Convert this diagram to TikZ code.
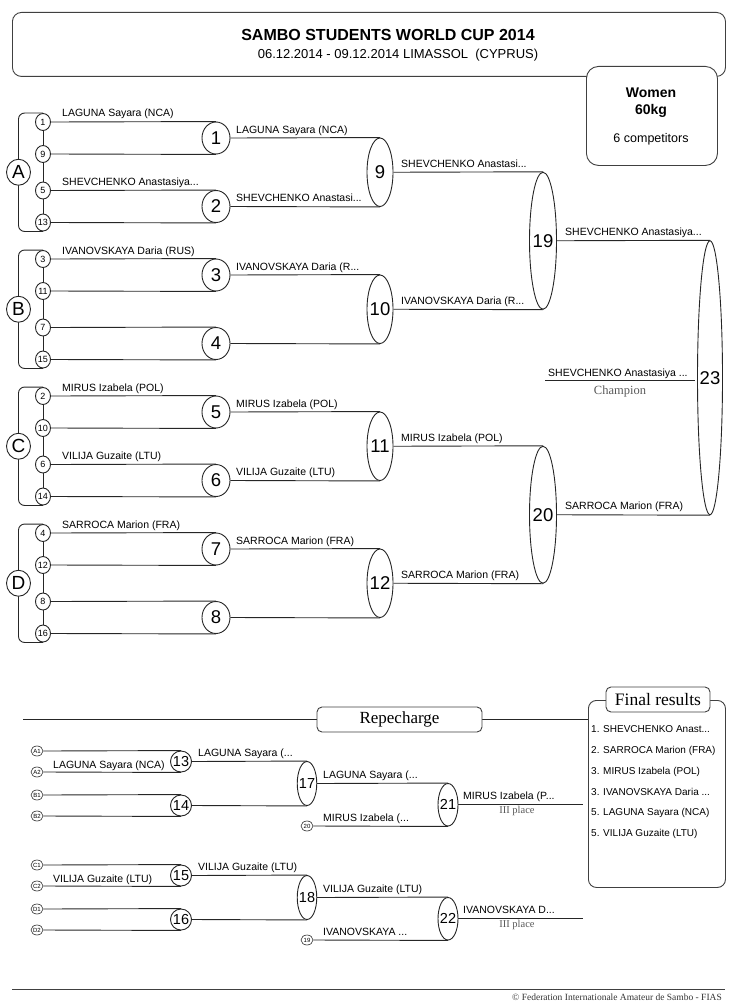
\documentclass[tikz,border=0pt]{standalone}
\usepackage{fontspec}
\setmainfont{Liberation Sans}
\newfontfamily\seriffont{Liberation Serif}
\usetikzlibrary{shapes.geometric,backgrounds}
\begin{document}
\begin{tikzpicture}[x=1pt,y=-1pt,
  ln/.style={line width=0.9pt, draw=black!85},
  ell/.style={ellipse, draw=black!85, line width=0.9pt, fill=white, inner sep=0pt},
  sm/.style={ell, minimum width=15pt, minimum height=17pt, label={[font=\fontsize{9}{9}\selectfont, inner sep=0pt]center:#1}},
  pool/.style={ell, minimum width=24pt, minimum height=26pt, label={[font=\fontsize{19}{19}\selectfont, inner sep=0pt]center:#1}},
  ra/.style={ell, minimum width=28pt, minimum height=32pt, label={[font=\fontsize{18.5}{18.5}\selectfont, inner sep=0pt]center:#1}},
  rb/.style={ell, minimum width=26pt, minimum height=68.5pt, label={[font=\fontsize{18.5}{18.5}\selectfont, inner sep=0pt]center:#1}},
  rc/.style={ell, minimum width=27pt, minimum height=137pt, label={[font=\fontsize{18.5}{18.5}\selectfont, inner sep=0pt]center:#1}},
  rd/.style={ell, minimum width=25pt, minimum height=274pt, label={[font=\fontsize{18.5}{18.5}\selectfont, inner sep=0pt]center:#1}},
  rs/.style={ell, line width=0.6pt, minimum width=12pt, minimum height=10pt, label={[font=\fontsize{6}{6}\selectfont, inner sep=0pt]center:#1}},
  rm/.style={ell, minimum width=21pt, minimum height=21pt, label={[font=\fontsize{14.5}{14.5}\selectfont, inner sep=0pt]center:#1}},
  rn/.style={ell, minimum width=19.5pt, minimum height=44pt, label={[font=\fontsize{14.5}{14.5}\selectfont, inner sep=0pt]center:#1}},
  ro/.style={ell, minimum width=20pt, minimum height=42.5pt, label={[font=\fontsize{14.5}{14.5}\selectfont, inner sep=0pt]center:#1}},
  lab/.style={anchor=base west, inner sep=0pt, font=\fontsize{10.5}{12}\selectfont},
  third/.style={inner sep=0pt, text=black!65, font=\seriffont\fontsize{10.5}{11}\selectfont},
  item/.style={anchor=base west, inner sep=0pt, font=\fontsize{10}{12}\selectfont},
  boxst/.style={draw=black!75, line width=0.9pt, fill=white, inner sep=0pt},
]
\useasboundingbox (0,0) rectangle (737,1006);

% ---------- header ----------
\node[boxst, rounded corners=9pt, minimum width=713pt, minimum height=64pt, anchor=north west] (hdr) at (12,12) {};
\node[inner sep=0pt, font=\bfseries\fontsize{16}{17}\selectfont] (title) at (388,35) {SAMBO STUDENTS WORLD CUP 2014};
\node[inner sep=0pt, font=\fontsize{13}{14}\selectfont] (subtitle) at (398,55) {06.12.2014 - 09.12.2014 LIMASSOL\ \ (CYPRUS)};
\node[boxst, rounded corners=12pt, minimum width=131pt, minimum height=99pt, anchor=north west] (wbox) at (586,66) {};
\node[inner sep=0pt, font=\bfseries\fontsize{14}{15}\selectfont] (women) at (651,93) {Women};
\node[inner sep=0pt, font=\bfseries\fontsize{14}{15}\selectfont] (kg) at (651,111) {60kg};
\node[inner sep=0pt, font=\fontsize{12.5}{14}\selectfont] (comp) at (651,139) {6 competitors};

% ---------- pools: small circles ----------
\node[sm=1]  (s1)  at (43,122)   {};
\node[sm=9]  (s9)  at (43,154)   {};
\node[sm=5]  (s5)  at (43,190.5) {};
\node[sm=13] (s13) at (43,222.5) {};
\node[sm=3]  (s3)  at (43,259)   {};
\node[sm=11] (s11) at (43,291)   {};
\node[sm=7]  (s7)  at (43,327.5) {};
\node[sm=15] (s15) at (43,359.5) {};
\node[sm=2]  (s2)  at (43,396)   {};
\node[sm=10] (s10) at (43,428)   {};
\node[sm=6]  (s6)  at (43,464.5) {};
\node[sm=14] (s14) at (43,496.5) {};
\node[sm=4]  (s4)  at (43,533)   {};
\node[sm=12] (s12) at (43,565)   {};
\node[sm=8]  (s8)  at (43,601.5) {};
\node[sm=16] (s16) at (43,633.5) {};

\node[pool=A] (pA) at (18.5,172.25) {};
\node[pool=B] (pB) at (18.5,309.25) {};
\node[pool=C] (pC) at (18.5,446.25) {};
\node[pool=D] (pD) at (18.5,583.25) {};

% ---------- matches ----------
\node[ra=1] (m1) at (216,138)   {};
\node[ra=2] (m2) at (216,206.5) {};
\node[ra=3] (m3) at (216,275)   {};
\node[ra=4] (m4) at (216,343.5) {};
\node[ra=5] (m5) at (216,412)   {};
\node[ra=6] (m6) at (216,480.5) {};
\node[ra=7] (m7) at (216,549)   {};
\node[ra=8] (m8) at (216,617.5) {};
\node[rb=9]  (m9)  at (380,172.25) {};
\node[rb=10] (m10) at (380,309.25) {};
\node[rb=11] (m11) at (380,446.25) {};
\node[rb=12] (m12) at (380,583.25) {};
\node[rc=19] (m19) at (543,240.75) {};
\node[rc=20] (m20) at (543,514.75) {};
\node[rd=23] (m23) at (710,377.75) {};
\coordinate (ch1) at (545,380);
\coordinate (ch2) at (695,380);

% ---------- labels main bracket ----------
\node[lab] (t1) at (62,117)   {LAGUNA Sayara (NCA)};
\node[lab] (t2) at (62,185.5) {SHEVCHENKO Anastasiya...};
\node[lab] (t3) at (62,254)   {IVANOVSKAYA Daria (RUS)};
\node[lab] (t5) at (62,391)   {MIRUS Izabela (POL)};
\node[lab] (t6) at (62,459.5) {VILIJA Guzaite (LTU)};
\node[lab] (t7) at (62,528)   {SARROCA Marion (FRA)};
\node[lab] (u1) at (236,133)   {LAGUNA Sayara (NCA)};
\node[lab] (u2) at (236,201.5) {SHEVCHENKO Anastasi...};
\node[lab] (u3) at (236,270)   {IVANOVSKAYA Daria (R...};
\node[lab] (u5) at (236,407)   {MIRUS Izabela (POL)};
\node[lab] (u6) at (236,475.5) {VILIJA Guzaite (LTU)};
\node[lab] (u7) at (236,544)   {SARROCA Marion (FRA)};
\node[lab] (v9)  at (401,167.25) {SHEVCHENKO Anastasi...};
\node[lab] (v10) at (401,304.25) {IVANOVSKAYA Daria (R...};
\node[lab] (v11) at (401,441.25) {MIRUS Izabela (POL)};
\node[lab] (v12) at (401,578.25) {SARROCA Marion (FRA)};
\node[lab] (w19) at (565,235.75) {SHEVCHENKO Anastasiya...};
\node[lab] (w20) at (565,509.75) {SARROCA Marion (FRA)};
\node[lab] (champ) at (548,376) {SHEVCHENKO Anastasiya ...};
\node[inner sep=0pt, text=black!65, font=\seriffont\fontsize{12.5}{13}\selectfont] (champion) at (620,391) {Champion};

% ---------- repecharge ----------
\coordinate (rl) at (23,719.5);
\node[boxst, rounded corners=5pt, minimum width=165pt, minimum height=25pt, font=\seriffont\fontsize{17}{18}\selectfont] (rep) at (399.5,719.5) {Repecharge};
\node[boxst, rounded corners=8pt, minimum width=137pt, minimum height=187pt, anchor=north west] (fbox) at (588,700) {};
\node[boxst, rounded corners=5pt, minimum width=104pt, minimum height=25pt, font=\seriffont\fontsize{17.5}{18}\selectfont] (frl) at (658,699.5) {Final results};
\node[item] (i1) at (591,732.6) {1. SHEVCHENKO Anast...};
\node[item] (i2) at (591,753.5) {2. SARROCA Marion (FRA)};
\node[item] (i3) at (591,774.5) {3. MIRUS Izabela (POL)};
\node[item] (i4) at (591,795.5) {3. IVANOVSKAYA Daria ...};
\node[item] (i5) at (591,815.5) {5. LAGUNA Sayara (NCA)};
\node[item] (i6) at (591,836.5) {5. VILIJA Guzaite (LTU)};

\node[rs=A1] (rA1) at (37,751) {};
\node[rs=A2] (rA2) at (37,772) {};
\node[rs=B1] (rB1) at (37,795) {};
\node[rs=B2] (rB2) at (37,816) {};
\node[rs=C1] (rC1) at (37,865) {};
\node[rs=C2] (rC2) at (37,886) {};
\node[rs=D1] (rD1) at (37,909) {};
\node[rs=D2] (rD2) at (37,930) {};
\node[rm=13] (r13) at (181,761.5) {};
\node[rm=14] (r14) at (181,805.5) {};
\node[rm=15] (r15) at (181,875.5) {};
\node[rm=16] (r16) at (181,919.5) {};
\node[rn=17] (r17) at (307,783.5) {};
\node[rn=18] (r18) at (307,897.5) {};
\node[rs=20] (s20) at (307,826) {};
\node[rs=19] (s19) at (307,940) {};
\node[ro=21] (r21) at (448,804.75) {};
\node[ro=22] (r22) at (448,918.75) {};
\coordinate (e21) at (583,804.75);
\coordinate (e22) at (583,918.75);

\node[lab] (x1) at (53,768)    {LAGUNA Sayara (NCA)};
\node[lab] (x2) at (198,756.5) {LAGUNA Sayara (...};
\node[lab] (x3) at (323,778.5) {LAGUNA Sayara (...};
\node[lab] (x4) at (323,821)   {MIRUS Izabela (...};
\node[lab] (x5) at (463,799.75) {MIRUS Izabela (P...};
\node[third] (p1) at (517,811) {III place};
\node[lab] (y1) at (53,882)    {VILIJA Guzaite (LTU)};
\node[lab] (y2) at (198,870.5) {VILIJA Guzaite (LTU)};
\node[lab] (y3) at (323,892.5) {VILIJA Guzaite (LTU)};
\node[lab] (y4) at (323,935)   {IVANOVSKAYA ...};
\node[lab] (y5) at (463,913.75) {IVANOVSKAYA D...};
\node[third] (p2) at (517,925) {III place};

% ---------- footer ----------
\coordinate (f1) at (12,989);
\coordinate (f2) at (725,989);
\node[anchor=base east, inner sep=0pt, text=black!80, font=\seriffont\fontsize{9.5}{10}\selectfont] (foot) at (722,1000) {© Federation Internationale Amateur de Sambo - FIAS};

% ---------- connectors ----------
\begin{pgfonlayer}{background}
  \foreach \a/\b/\p in {s1/s13/pA, s3/s15/pB, s2/s14/pC, s4/s16/pD}{
    \draw[ln, rounded corners=6pt] (\a.north) -| (\p.center) |- (\b.south);
    \draw[ln] (\a.center) -- (\b.center);
  }
  \foreach \s/\m/\e in {s1/m1/north, s9/m1/south, s5/m2/north, s13/m2/south,
                        s3/m3/north, s11/m3/south, s7/m4/north, s15/m4/south,
                        s2/m5/north, s10/m5/south, s6/m6/north, s14/m6/south,
                        s4/m7/north, s12/m7/south, s8/m8/north, s16/m8/south,
                        m1/m9/north, m2/m9/south, m3/m10/north, m4/m10/south,
                        m5/m11/north, m6/m11/south, m7/m12/north, m8/m12/south,
                        m9/m19/north, m10/m19/south, m11/m20/north, m12/m20/south,
                        m19/m23/north, m20/m23/south,
                        rA1/r13/north, rA2/r13/south, rB1/r14/north, rB2/r14/south,
                        rC1/r15/north, rC2/r15/south, rD1/r16/north, rD2/r16/south,
                        r13/r17/north, r14/r17/south, r15/r18/north, r16/r18/south,
                        r17/r21/north, s20/r21/south, r18/r22/north, s19/r22/south}{
    \draw[ln] (\s.east) -- (\m.\e);
  }
  \draw[ln] (ch1) -- (ch2);
  \draw[ln] (r21.east) -- (e21);
  \draw[ln] (r22.east) -- (e22);
  \draw[ln] (rl) -- (rep.west);
  \draw[ln] (rep.east) -- (rep.east -| fbox.west);
  \draw[ln, draw=black!75] (f1) -- (f2);
\end{pgfonlayer}
\end{tikzpicture}
\end{document}
